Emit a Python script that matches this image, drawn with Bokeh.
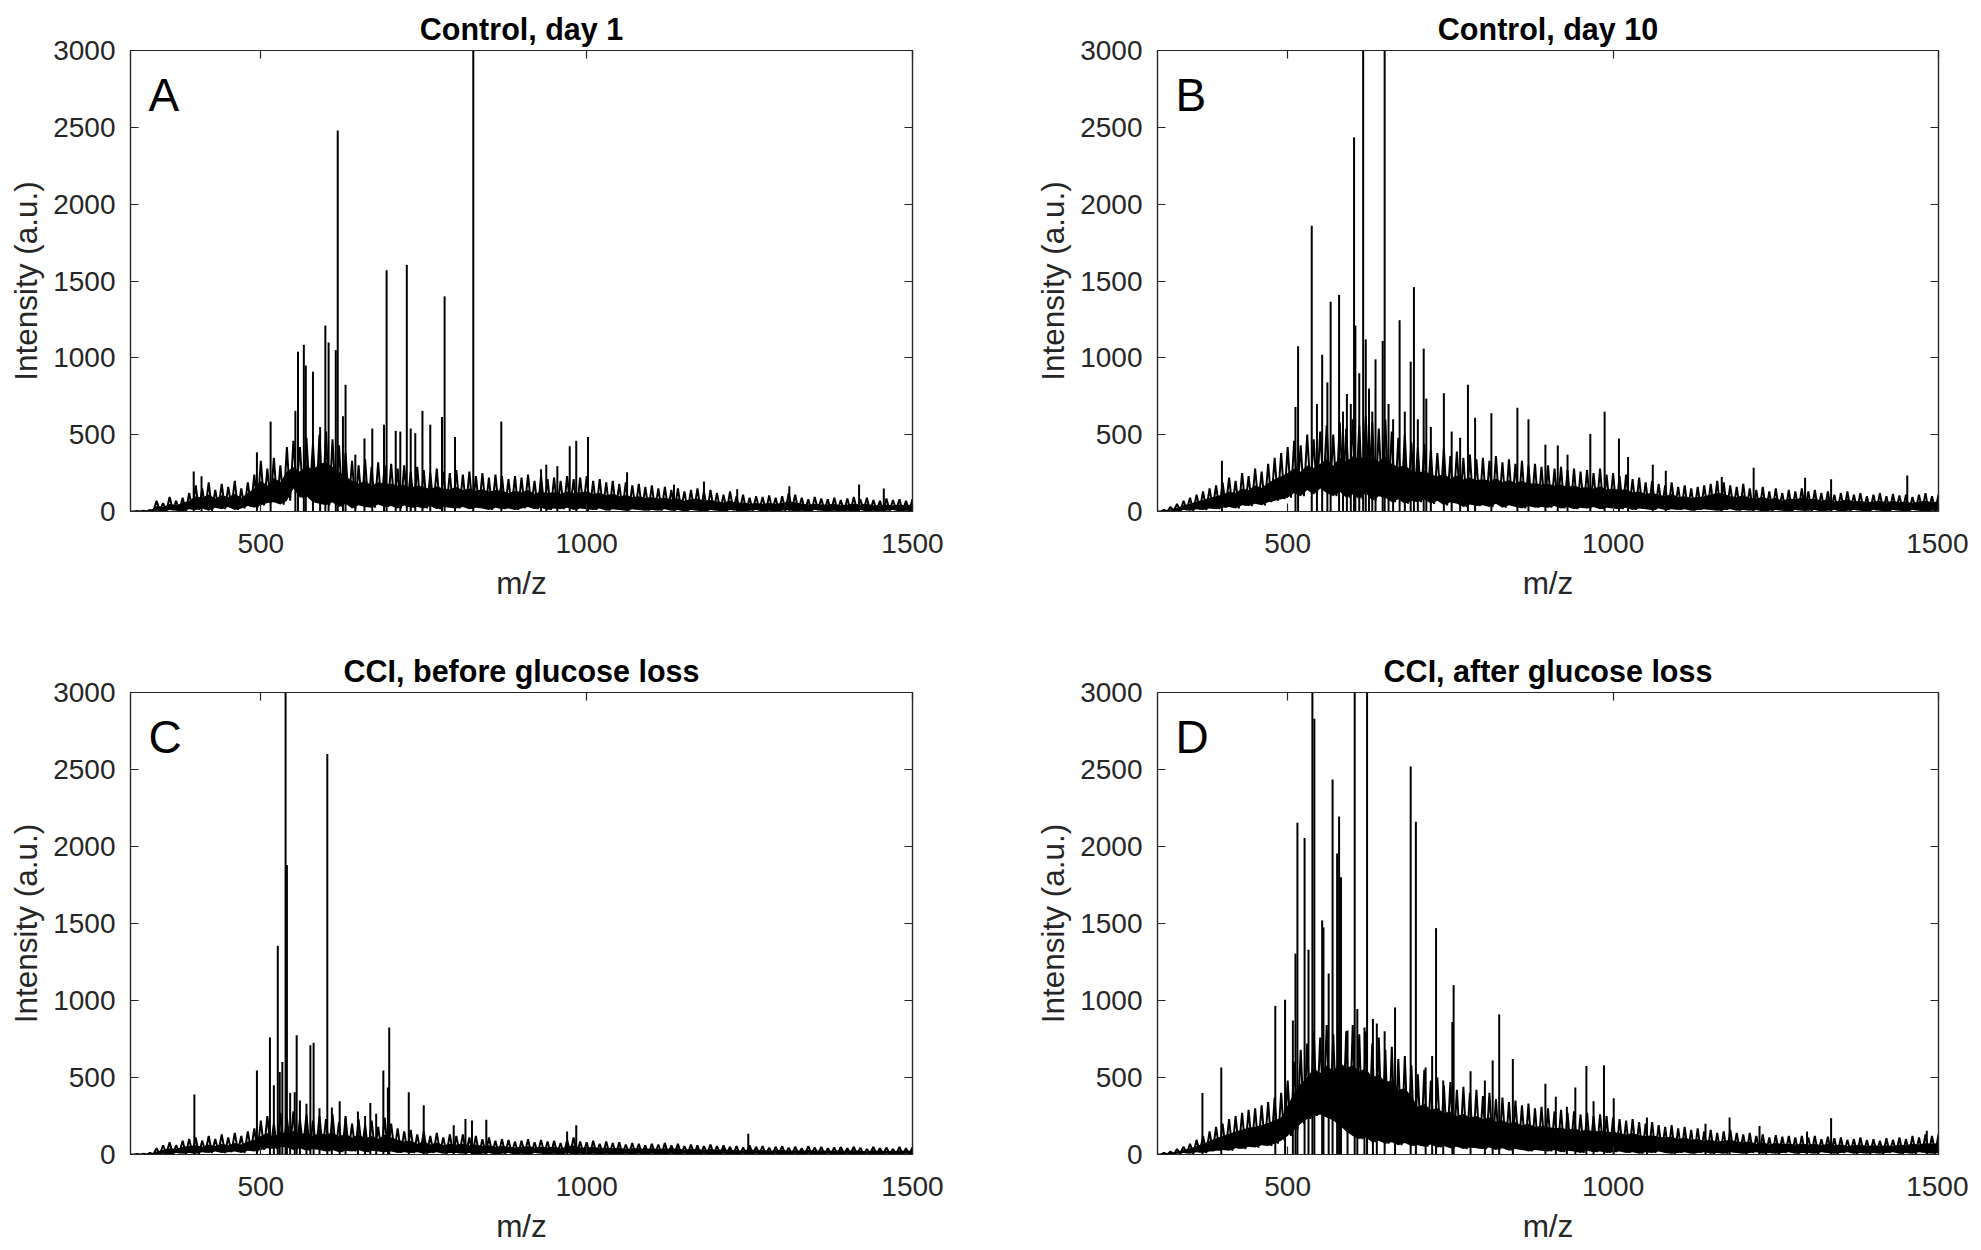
import numpy as np
from bokeh.plotting import figure
from bokeh.models import Range1d, FixedTicker, LinearAxis, Label, CustomLabelingPolicy
from bokeh.layouts import column, row
from bokeh.embed import file_html
from bokeh.resources import INLINE

# ---------------- data ----------------
MZ_GRID = list(range(300, 1501, 10))          # m/z sampling of the noise envelope
X_TICKS = [500, 1000, 1500]
Y_TICKS = [0, 500, 1000, 1500, 2000, 2500, 3000]

TITLES = ["Control, day 1", "Control, day 10", "CCI, before glucose loss", "CCI, after glucose loss"]
LETTERS = ["A", "B", "C", "D"]

# Panel A: Control, day 1
# HI = tops of the dense noise, CORE = top of its solid part, LO = bottom of the noise band
A_HI = [0, 3, 5, 10, 70, 55, 95, 70, 90, 120,
        170, 150, 190, 140, 180, 160, 200, 150, 190, 240,
        330, 280, 350, 300, 420, 460, 420, 480, 440, 500,
        520, 470, 430, 380, 330, 300, 340, 290, 320, 300,
        310, 280, 300, 260, 290, 270, 250, 280, 260, 250,
        270, 240, 260, 230, 250, 220, 240, 230, 210, 230,
        220, 240, 200, 230, 210, 220, 200, 230, 210, 220,
        230, 200, 210, 190, 200, 180, 190, 170, 180, 160,
        170, 150, 160, 140, 150, 130, 140, 150, 130, 140,
        120, 110, 130, 100, 110, 90, 100, 95, 105, 90,
        100, 120, 110, 90, 80, 95, 85, 80, 90, 75,
        85, 95, 80, 90, 75, 70, 85, 75, 80, 70,
        80]
A_CORE = [0, 0, 2, 5, 35, 30, 50, 40, 55, 70,
          100, 90, 110, 85, 105, 95, 115, 90, 120, 150,
          200, 170, 220, 190, 260, 290, 260, 300, 270, 310,
          320, 290, 260, 230, 200, 180, 200, 170, 190, 180,
          180, 170, 175, 155, 170, 160, 145, 165, 150, 145,
          160, 140, 150, 135, 145, 130, 140, 135, 120, 135,
          125, 140, 115, 130, 120, 125, 115, 130, 120, 125,
          130, 115, 120, 105, 115, 100, 105, 95, 100, 90,
          95, 85, 90, 80, 85, 70, 80, 85, 70, 75,
          65, 60, 70, 55, 60, 50, 55, 50, 55, 50,
          55, 65, 60, 50, 45, 50, 45, 45, 50, 40,
          45, 50, 45, 50, 40, 40, 45, 40, 45, 40,
          45]
A_LO = [0, 0, 0, 0, 5, 0, 10, 5, 0, 15,
        10, 20, 5, 25, 15, 30, 10, 20, 35, 25,
        40, 55, 60, 45, 70, 150, 90, 100, 60, 50,
        40, 60, 30, 50, 20, 40, 30, 25, 45, 30,
        35, 20, 40, 25, 30, 20, 35, 15, 30, 25,
        20, 30, 15, 25, 20, 10, 25, 15, 20, 10,
        20, 30, 15, 25, 10, 20, 15, 25, 10, 20,
        15, 10, 20, 5, 15, 10, 5, 15, 10, 5,
        10, 5, 15, 5, 10, 0, 10, 5, 0, 10,
        5, 0, 10, 5, 0, 5, 10, 0, 5, 0,
        5, 10, 0, 5, 0, 10, 5, 0, 5, 0,
        5, 0, 10, 0, 5, 0, 5, 10, 0, 5,
        0]
A_PEAK_MZ = [397, 409, 494, 515, 553, 557, 566, 569, 580, 591, 599, 604, 615, 618, 626, 630,
             645, 659, 671, 689, 693, 707, 714, 724, 730, 737, 748, 760, 778, 782, 798, 826,
             869, 930, 938, 955, 974, 984, 1002, 1062, 1134, 1180, 1231, 1311, 1418, 1456]
A_PEAK_INT = [260, 230, 385, 585, 655, 1040, 1085, 950, 910, 550, 1210, 1100, 1050, 2480, 620, 825,
              370, 475, 540, 565, 1570, 525, 520, 1605, 540, 510, 655, 565, 615, 1400, 485, 3200,
              585, 275, 305, 295, 425, 460, 485, 255, 175, 195, 145, 165, 175, 150]

# Panel B: Control, day 10
B_HI = [0, 10, 30, 50, 70, 90, 110, 130, 150, 170,
        190, 220, 200, 250, 230, 280, 260, 310, 350, 380,
        420, 460, 430, 500, 470, 520, 560, 500, 580, 540,
        600, 560, 620, 580, 540, 600, 520, 480, 500, 450,
        420, 440, 400, 380, 410, 360, 390, 350, 370, 340,
        350, 330, 360, 320, 340, 310, 330, 300, 310, 290,
        300, 280, 290, 270, 280, 260, 270, 250, 280, 240,
        250, 230, 240, 210, 220, 190, 200, 180, 170, 190,
        160, 170, 150, 160, 170, 180, 200, 190, 170, 160,
        180, 150, 140, 160, 130, 150, 120, 140, 130, 150,
        130, 140, 120, 130, 110, 120, 130, 110, 120, 100,
        110, 120, 100, 115, 105, 110, 95, 110, 120, 100,
        110]
B_CORE = [0, 5, 15, 25, 40, 50, 65, 75, 90, 100,
          110, 130, 120, 150, 140, 170, 155, 185, 210, 230,
          250, 280, 260, 300, 285, 310, 340, 300, 350, 325,
          360, 340, 370, 350, 325, 360, 310, 290, 300, 270,
          250, 265, 240, 230, 245, 215, 235, 210, 220, 205,
          210, 200, 215, 190, 205, 185, 200, 180, 185, 175,
          180, 170, 175, 160, 170, 155, 160, 150, 165, 145,
          150, 140, 145, 125, 130, 115, 120, 110, 100, 115,
          95, 100, 90, 95, 100, 110, 120, 115, 100, 95,
          105, 90, 85, 95, 80, 90, 70, 85, 80, 90,
          80, 85, 70, 80, 65, 70, 80, 65, 70, 60,
          65, 70, 60, 70, 60, 65, 55, 65, 70, 60,
          65]
B_LO = [0, 0, 5, 0, 10, 5, 15, 10, 20, 15,
        25, 30, 20, 40, 35, 50, 40, 60, 70, 80,
        90, 120, 100, 140, 110, 150, 120, 100, 130, 90,
        110, 80, 120, 70, 100, 90, 60, 80, 50, 70,
        60, 80, 50, 70, 40, 60, 50, 30, 45, 35,
        40, 30, 50, 25, 40, 30, 20, 35, 25, 30,
        25, 35, 20, 30, 15, 25, 20, 30, 15, 25,
        20, 15, 25, 10, 20, 15, 10, 20, 10, 15,
        10, 15, 5, 10, 15, 10, 5, 10, 15, 5,
        10, 5, 10, 0, 5, 10, 5, 0, 10, 5,
        5, 10, 0, 5, 10, 0, 5, 10, 5, 0,
        10, 5, 0, 10, 5, 0, 10, 5, 0, 5,
        5]
B_PEAK_MZ = [399, 512, 516, 537, 545, 553, 561, 566, 579, 585, 591, 597, 602, 604, 610, 616,
             620, 625, 630, 635, 646, 649, 655, 662, 672, 680, 689, 694, 700, 709, 713, 720,
             740, 752, 765, 777, 788, 813, 853, 870, 896, 915, 930, 965, 987, 1009, 1023, 1061,
             1081, 1167, 1216, 1295, 1335, 1452]
B_PEAK_INT = [330, 680, 1075, 1860, 700, 1020, 840, 1365, 1410, 650, 765, 700, 2435, 1210, 900, 3200,
              1120, 800, 650, 990, 1110, 3200, 700, 600, 1245, 650, 975, 1460, 600, 1060, 735, 550,
              770, 520, 480, 825, 610, 640, 675, 600, 435, 430, 370, 505, 650, 475, 355, 305,
              265, 225, 285, 220, 210, 235]

# Panel C: CCI, before glucose loss
C_HI = [0, 3, 5, 10, 40, 60, 80, 60, 90, 100,
        110, 90, 120, 100, 130, 110, 140, 120, 150, 170,
        220, 250, 200, 270, 240, 280, 230, 260, 220, 250,
        230, 260, 210, 240, 200, 230, 190, 220, 180, 240,
        200, 170, 150, 160, 130, 150, 120, 140, 110, 130,
        120, 130, 110, 120, 100, 110, 90, 100, 95, 85,
        90, 100, 80, 95, 85, 90, 75, 95, 110, 85,
        80, 90, 70, 85, 75, 80, 65, 75, 70, 60,
        70, 65, 75, 60, 70, 55, 65, 60, 55, 65,
        55, 60, 50, 55, 45, 60, 50, 55, 45, 50,
        55, 45, 50, 40, 55, 45, 50, 40, 45, 50,
        40, 50, 45, 35, 50, 40, 45, 35, 50, 40,
        45]
C_CORE = [0, 0, 2, 5, 20, 30, 40, 35, 50, 55,
          60, 50, 65, 55, 70, 60, 75, 65, 85, 95,
          120, 140, 110, 150, 135, 155, 130, 145, 120, 140,
          130, 145, 115, 135, 110, 130, 105, 120, 100, 130,
          110, 95, 85, 90, 70, 85, 65, 80, 60, 70,
          65, 70, 60, 65, 55, 60, 50, 55, 50, 45,
          50, 55, 45, 50, 45, 50, 40, 50, 60, 45,
          45, 50, 40, 45, 40, 45, 35, 40, 40, 35,
          40, 35, 40, 35, 40, 30, 35, 35, 30, 35,
          30, 35, 28, 30, 25, 35, 28, 30, 25, 28,
          30, 25, 28, 22, 30, 25, 28, 22, 25, 28,
          22, 28, 25, 20, 28, 22, 25, 20, 28, 22,
          25]
C_LO = [0, 0, 0, 0, 0, 5, 0, 10, 5, 10,
        5, 15, 10, 20, 10, 15, 20, 10, 25, 20,
        30, 40, 35, 50, 45, 30, 40, 25, 35, 30,
        20, 30, 15, 25, 20, 30, 15, 25, 20, 15,
        20, 10, 15, 10, 15, 5, 10, 15, 5, 10,
        10, 5, 10, 0, 5, 10, 0, 5, 10, 0,
        5, 0, 10, 5, 0, 5, 0, 10, 0, 5,
        0, 5, 0, 5, 0, 0, 5, 0, 5, 0,
        5, 0, 0, 5, 0, 5, 0, 0, 5, 0,
        0, 5, 0, 0, 5, 0, 5, 0, 0, 5,
        0, 0, 5, 0, 5, 0, 0, 5, 0, 0,
        5, 0, 0, 5, 0, 0, 5, 0, 0, 5,
        0]
C_PEAK_MZ = [398, 494, 514, 520, 526, 529, 533, 538, 540, 545, 552, 555, 560, 570, 576, 581,
             590, 602, 609, 621, 630, 649, 660, 668, 677, 688, 695, 697, 727, 750, 796, 814,
             824, 846, 970, 984, 1248]
C_PEAK_INT = [390, 545, 760, 450, 1355, 535, 600, 3200, 1880, 400, 405, 775, 350, 330, 710, 725,
              300, 2600, 305, 345, 250, 280, 250, 335, 265, 545, 435, 825, 405, 320, 190, 230,
              220, 225, 150, 190, 135]

# Panel D: CCI, after glucose loss
D_HI = [0, 10, 20, 35, 50, 70, 95, 120, 150, 180,
        200, 230, 250, 270, 290, 300, 320, 340, 370, 400,
        480, 600, 680, 720, 800, 760, 840, 780, 860, 800,
        840, 780, 800, 720, 760, 680, 700, 620, 640, 580,
        520, 550, 480, 500, 450, 470, 420, 440, 400, 420,
        380, 400, 360, 370, 340, 350, 320, 330, 300, 310,
        300, 280, 290, 270, 280, 260, 270, 250, 260, 250,
        240, 230, 220, 230, 210, 200, 210, 190, 180, 190,
        170, 180, 160, 170, 150, 160, 140, 150, 160, 140,
        130, 140, 120, 130, 110, 125, 115, 120, 110, 120,
        110, 120, 100, 115, 105, 110, 95, 100, 110, 95,
        100, 90, 105, 95, 110, 100, 120, 110, 130, 120,
        130]
D_CORE = [0, 5, 10, 20, 30, 40, 55, 70, 90, 105,
          120, 135, 150, 160, 175, 180, 190, 205, 220, 240,
          320, 400, 460, 500, 560, 530, 580, 540, 600, 560,
          580, 540, 560, 500, 520, 470, 480, 420, 430, 380,
          310, 330, 290, 300, 270, 280, 250, 265, 240, 250,
          230, 240, 215, 220, 205, 210, 190, 200, 180, 185,
          180, 170, 175, 160, 170, 155, 160, 150, 155, 150,
          145, 140, 130, 140, 125, 120, 125, 115, 110, 115,
          100, 110, 95, 100, 90, 95, 85, 90, 95, 85,
          80, 85, 70, 80, 65, 75, 70, 70, 65, 70,
          65, 70, 60, 70, 60, 65, 55, 60, 65, 55,
          60, 55, 60, 55, 65, 60, 70, 65, 75, 70,
          75]
D_LO = [0, 0, 0, 5, 10, 5, 15, 10, 20, 25,
        30, 25, 40, 35, 50, 45, 60, 55, 70, 90,
        120, 160, 200, 230, 250, 260, 240, 220, 190, 150,
        120, 100, 110, 80, 90, 70, 80, 60, 75, 55,
        60, 50, 65, 45, 55, 40, 50, 35, 45, 40,
        35, 45, 30, 40, 25, 35, 30, 20, 30, 25,
        20, 30, 15, 25, 20, 10, 25, 15, 20, 10,
        15, 20, 10, 15, 5, 15, 10, 20, 10, 5,
        10, 15, 5, 10, 15, 5, 10, 5, 15, 10,
        5, 10, 15, 5, 10, 5, 10, 15, 5, 10,
        10, 5, 15, 10, 5, 10, 15, 5, 10, 5,
        10, 5, 10, 15, 5, 10, 5, 15, 10, 5,
        10]
D_PEAK_MZ = [369, 398, 481, 496, 508, 512, 515, 526, 532, 538, 541, 553, 555, 563, 569, 576,
             579, 582, 592, 603, 607, 618, 622, 631, 637, 649, 665, 689, 697, 712, 722, 728,
             739, 753, 755, 781, 803, 815, 825, 846, 896, 912, 929, 942, 959, 970, 986, 1001,
             1052, 1142, 1179, 1225, 1298, 1335, 1482]
D_PEAK_INT = [400, 565, 965, 1005, 870, 1305, 2155, 2055, 1330, 3200, 2830, 1520, 1475, 1175, 2435, 1955,
              2195, 1800, 805, 3200, 945, 825, 3200, 880, 850, 800, 955, 2520, 2160, 565, 640, 1470,
              480, 860, 1100, 540, 480, 610, 910, 620, 460, 375, 310, 435, 575, 345, 580, 365,
              240, 200, 240, 185, 150, 235, 155]

# ---------------- styling ----------------
FONT = "Liberation Sans"
AX_COLOR = "#262626"


def make_panel(hi, core, lo, pk_mz, pk_int, title, letter, width, height, left, right, top, bottom):
    p = figure(width=width, height=height,
               x_range=Range1d(300, 1500), y_range=Range1d(0, 3000),
               output_backend="svg", toolbar_location=None,
               min_border_left=left, min_border_right=right,
               min_border_top=top, min_border_bottom=bottom,
               background_fill_color="white", border_fill_color="white")
    fh = height - top - bottom
    p.grid.visible = False
    p.outline_line_color = AX_COLOR
    p.outline_line_width = 1.2

    grid = np.array(MZ_GRID, dtype=float)
    # solid part of the noise band
    p.varea(x=grid, y1=np.array(lo, dtype=float), y2=np.array(core, dtype=float),
            fill_color="black")
    # jagged noise: zig-zag between the upper and lower envelope
    xs = np.empty(2 * len(grid))
    ys = np.empty(2 * len(grid))
    xs[0::2] = grid
    xs[1::2] = grid + 5
    ys[0::2] = np.array(hi, dtype=float)
    ys[1::2] = np.array(lo, dtype=float)
    p.line(xs, ys, line_color="black", line_width=2)
    # discrete peaks
    p.segment(x0=pk_mz, y0=[0] * len(pk_mz), x1=pk_mz, y1=pk_int,
              line_color="black", line_width=2)

    xa = p.xaxis[0]
    ya = p.yaxis[0]
    xa.ticker = FixedTicker(ticks=X_TICKS)
    ya.ticker = FixedTicker(ticks=Y_TICKS)
    xa.axis_label = "m/z"
    ya.axis_label = "Intensity (a.u.)"

    no_labels = CustomLabelingPolicy(code="return new Set()")
    extra_r = LinearAxis(ticker=FixedTicker(ticks=Y_TICKS), major_label_policy=no_labels)
    extra_t = LinearAxis(ticker=FixedTicker(ticks=X_TICKS), major_label_policy=no_labels)
    p.add_layout(extra_r, "right")
    p.add_layout(extra_t, "above")

    for ax in (xa, ya, extra_r, extra_t):
        ax.major_tick_in = 8
        ax.major_tick_out = 0
        ax.minor_tick_line_color = None
        ax.axis_line_color = AX_COLOR
        ax.major_tick_line_color = AX_COLOR
        ax.major_tick_line_width = 1.2
        ax.axis_line_width = 1.2
        ax.major_label_text_font = FONT
        ax.major_label_text_font_size = "28px"
        ax.major_label_text_color = AX_COLOR
        ax.axis_label_text_font = FONT
        ax.axis_label_text_font_size = "31.5px"
        ax.axis_label_text_font_style = "normal"
        ax.axis_label_text_color = AX_COLOR
    for ax in (extra_r, extra_t):
        ax.major_label_standoff = 0
        ax.major_label_text_font_size = "0px"
    ya.major_label_standoff = 15
    ya.axis_label_standoff = 6
    xa.major_label_standoff = 22
    xa.axis_label_standoff = 9

    p.title.text = title
    p.title.align = "center"
    p.title.text_font = FONT
    p.title.text_font_size = "30.5px"
    p.title.text_font_style = "bold"
    p.title.text_color = "black"
    p.title.standoff = 9

    p.add_layout(Label(x=18, y=fh - 44, x_units="screen", y_units="screen",
                       text=letter, text_align="left", text_baseline="alphabetic",
                       text_font=FONT, text_font_size="46px", text_color="black"))
    return p


pA = make_panel(A_HI, A_CORE, A_LO, A_PEAK_MZ, A_PEAK_INT, TITLES[0], LETTERS[0], 998, 628, 130, 86, 50, 117)
pB = make_panel(B_HI, B_CORE, B_LO, B_PEAK_MZ, B_PEAK_INT, TITLES[1], LETTERS[1], 970, 628, 159, 30, 50, 117)
pC = make_panel(C_HI, C_CORE, C_LO, C_PEAK_MZ, C_PEAK_INT, TITLES[2], LETTERS[2], 998, 618, 130, 86, 64, 92)
pD = make_panel(D_HI, D_CORE, D_LO, D_PEAK_MZ, D_PEAK_INT, TITLES[3], LETTERS[3], 970, 618, 159, 30, 64, 92)

layout = column(row(pA, pB), row(pC, pD))
open("out.html", "w").write(file_html(layout, INLINE))
